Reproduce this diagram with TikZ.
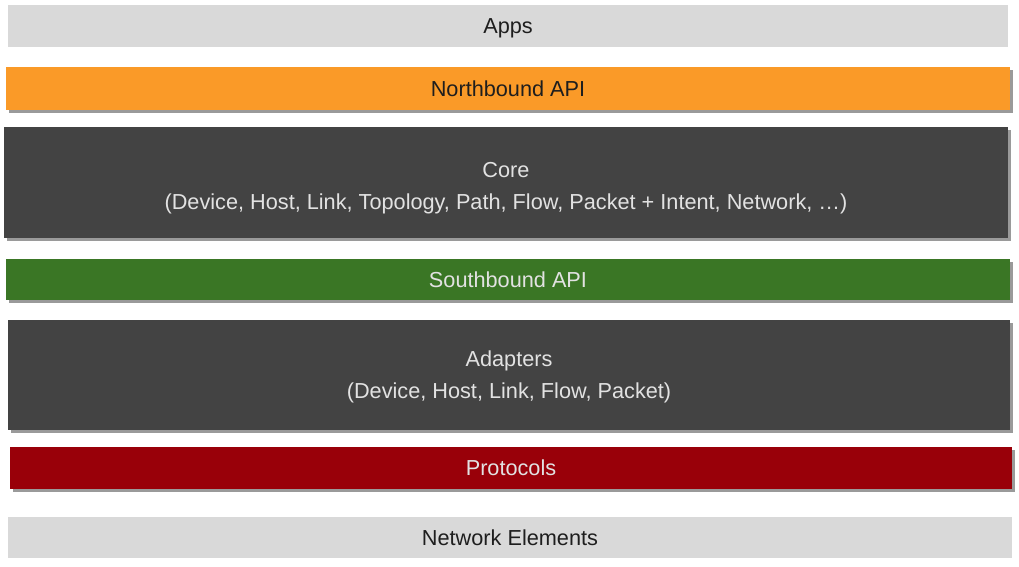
\documentclass[tikz,border=0pt]{standalone}
\usepackage{fontspec}
\setmainfont{Liberation Sans}
\usetikzlibrary{shadows}
\definecolor{lightbar}{HTML}{D9D9D9}
\definecolor{orangebar}{HTML}{FA9A28}
\definecolor{darkbar}{HTML}{434343}
\definecolor{greenbar}{HTML}{3A7625}
\definecolor{redbar}{HTML}{990009}
\definecolor{shadowgray}{HTML}{9A9A9A}
\definecolor{darktext}{HTML}{1E1E1E}
\definecolor{lighttext}{HTML}{E2E2E2}
\tikzset{
  layer/.style={rectangle, inner sep=0pt, outer sep=0pt},
  shadowed/.style={drop shadow={shadow xshift=3pt, shadow yshift=-3pt, fill=shadowgray, opacity=1}},
  label text/.style={inner sep=0pt, outer sep=0pt, anchor=base, font=\fontsize{21.7}{32}\selectfont},
}
\newcommand{\layerbox}[6]{% name, x1, y1, x2, y2, style
  \node[layer, #6, minimum width={(#4-#2)*1pt}, minimum height={(#5-#3)*1pt}]
    (#1) at ({(#2+#4)/2}, {(#3+#5)/2}) {};}
\begin{document}
\begin{tikzpicture}[x=1pt, y=-1pt]
\useasboundingbox (0,0) rectangle (1019,567);
\fill[white] (0,0) rectangle (1019,567);
\layerbox{apps}{8}{5}{1008}{47}{fill=lightbar}
\layerbox{north}{6}{67}{1010}{110}{fill=orangebar, shadowed}
\layerbox{core}{4}{127}{1008}{238}{fill=darkbar, shadowed}
\layerbox{south}{6}{259}{1010}{300}{fill=greenbar, shadowed}
\layerbox{adapt}{8}{320}{1010}{430}{fill=darkbar, shadowed}
\layerbox{proto}{10}{447}{1012}{489}{fill=redbar, shadowed}
\layerbox{net}{8}{517}{1012}{558}{fill=lightbar}

\node[label text, text=darktext] (appsT) at (apps.center |- 0,33.3) {Apps};
\node[label text, text=darktext] (northT) at (north.center |- 0,96.3) {Northbound API};
\node[label text, text=lighttext] (coreT1) at (core.center |- 0,177.3) {Core};
\node[label text, text=lighttext] (coreT2) at (core.center |- 0,209.3) {(Device, Host, Link, Topology, Path, Flow, Packet + Intent, Network, …)};
\node[label text, text=lighttext] (southT) at (south.center |- 0,287.3) {Southbound API};
\node[label text, text=lighttext] (adaptT1) at (adapt.center |- 0,366.3) {Adapters};
\node[label text, text=lighttext] (adaptT2) at (adapt.center |- 0,398.3) {(Device, Host, Link, Flow, Packet)};
\node[label text, text=lighttext] (protoT) at (proto.center |- 0,475.8) {Protocols};
\node[label text, text=darktext] (netT) at (net.center |- 0,545.3) {Network Elements};
\end{tikzpicture}
\end{document}
